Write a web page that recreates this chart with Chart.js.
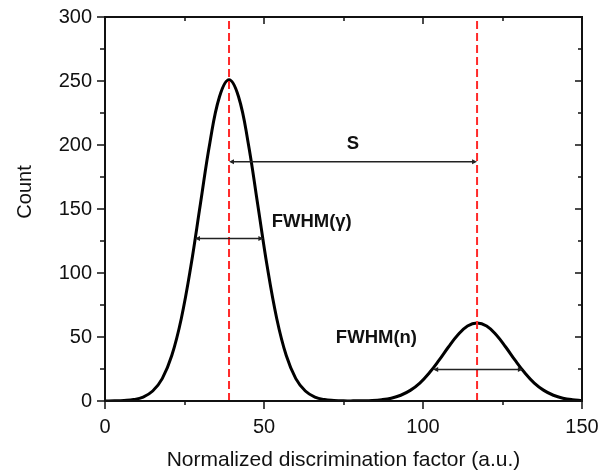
<!DOCTYPE html>
<html lang="en">
<head>
  <meta charset="UTF-8">
  <script src="https://cdn.jsdelivr.net/npm/chart.js"></script>
  <title>Discrimination factor distribution</title>
  <style>
    body { margin: 0; background: #ffffff; }
    #wrap { width: 611px; height: 475px; }
  </style>
</head>
<body>
  <div id="wrap"><canvas id="chart" width="611" height="475"></canvas></div>

  <script>
    // values
    const factor = [0, 3, 6, 9, 12, 15, 18, 21, 24, 27, 30, 33, 36, 39, 42, 45, 48, 51, 54, 57, 60,
      63, 66, 69, 72, 75, 78, 81, 84, 87, 90, 93, 96, 99, 102, 105, 108, 111, 114, 117, 120,
      123, 126, 129, 132, 135, 138, 141, 144, 147, 150];
    const counts = [0, 0.1, 0.4, 1.1, 3.1, 7.8, 17.5, 35.5, 64.5, 105.2, 153.9, 202, 237.7, 251, 237.7, 202, 153.9, 105.2, 64.5, 35.5, 17.5,
      7.8, 3.1, 1.1, 0.4, 0.1, 0.1, 0.2, 0.4, 1.0, 2.2, 4.5, 8.3, 14.0, 22.0, 31.7, 42.2, 51.8, 58.6, 61, 58.6,
      51.8, 42.2, 31.7, 22.0, 14.0, 8.3, 4.5, 2.2, 1.0, 0.4];
    const peakPositions = [39, 117];
    const xTicks = [0, 50, 100, 150];
    const yTicks = [0, 50, 100, 150, 200, 250, 300];

    const FONT = 'Arial, "Liberation Sans", sans-serif';

    // double headed arrows and labels, in data units
    const arrows = [
      { x1: 39, x2: 117, y: 187 },
      { x1: 28.3, x2: 49.8, y: 127 },
      { x1: 103.2, x2: 131.4, y: 24.7 }
    ];
    const notes = [
      { text: 'S', x: 78, y: 201, align: 'center' },
      { text: 'FWHM(\u03b3)', x: 52.4, y: 140, align: 'left' },
      { text: 'FWHM(n)', x: 72.6, y: 49, align: 'left' }
    ];

    function arrowHead(ctx, x, y, dir) {
      ctx.beginPath();
      ctx.moveTo(x, y);
      ctx.lineTo(x - dir * 5, y - 2.5);
      ctx.lineTo(x - dir * 5, y + 2.5);
      ctx.closePath();
      ctx.fill();
    }

    const framePlugin = {
      id: 'frame',
      afterDatasetsDraw(chart) {
        const ctx = chart.ctx;
        const xs = chart.scales.x, ys = chart.scales.y;

        // arrows
        ctx.save();
        ctx.strokeStyle = '#222';
        ctx.fillStyle = '#222';
        ctx.lineWidth = 1.5;
        arrows.forEach(ar => {
          const px1 = xs.getPixelForValue(ar.x1);
          const px2 = xs.getPixelForValue(ar.x2);
          const py = ys.getPixelForValue(ar.y);
          ctx.beginPath();
          ctx.moveTo(px1 + 2, py);
          ctx.lineTo(px2 - 2, py);
          ctx.stroke();
          arrowHead(ctx, px1, py, -1);
          arrowHead(ctx, px2, py, 1);
        });

        // labels
        ctx.fillStyle = '#111';
        ctx.font = 'bold 18.5px ' + FONT;
        ctx.textBaseline = 'middle';
        notes.forEach(n => {
          ctx.textAlign = n.align;
          ctx.fillText(n.text, xs.getPixelForValue(n.x), ys.getPixelForValue(n.y));
        });
        ctx.restore();
      },
      afterDraw(chart) {
        const ctx = chart.ctx;
        const xs = chart.scales.x, ys = chart.scales.y;
        const a = chart.chartArea;
        ctx.save();
        ctx.strokeStyle = '#111';
        ctx.lineWidth = 2;
        ctx.strokeRect(a.left, a.top, a.right - a.left, a.bottom - a.top);

        ctx.lineWidth = 1.5;
        ctx.beginPath();
        for (let v = 0; v <= 150; v += 25) {
          const px = Math.round(xs.getPixelForValue(v));
          const major = v % 50 === 0;
          ctx.moveTo(px, a.bottom); ctx.lineTo(px, a.bottom + (major ? 8 : 4));
          ctx.moveTo(px, a.top); ctx.lineTo(px, a.top + (major ? 7 : 4));
        }
        for (let v = 0; v <= 300; v += 25) {
          const py = Math.round(ys.getPixelForValue(v));
          const major = v % 50 === 0;
          ctx.moveTo(a.left, py); ctx.lineTo(a.left - (major ? 8 : 5), py);
          ctx.moveTo(a.right, py); ctx.lineTo(a.right - (major ? 7 : 4), py);
        }
        ctx.stroke();

        // y axis title
        ctx.fillStyle = '#111';
        ctx.font = '20px ' + FONT;
        ctx.textAlign = 'center';
        ctx.textBaseline = 'middle';
        ctx.translate(25, 192);
        ctx.rotate(-Math.PI / 2);
        ctx.fillText('Count', 0, 0);
        ctx.restore();
      }
    };

    const redLine = (x) => ({
      data: [{ x: x, y: 0 }, { x: x, y: 300 }],
      borderColor: '#ff2a2a',
      borderWidth: 2,
      borderDash: [8, 4],
      pointRadius: 0,
      fill: false
    });

    new Chart(document.getElementById('chart'), {
      type: 'line',
      data: {
        datasets: [
          redLine(peakPositions[0]),
          redLine(peakPositions[1]),
          {
            data: factor.map((x, i) => ({ x: x, y: counts[i] })),
            borderColor: '#000',
            borderWidth: 3,
            pointRadius: 0,
            tension: 0.4,
            fill: false
          }
        ]
      },
      options: {
        responsive: false,
        animation: false,
        layout: { padding: { left: 0, right: 29, top: 17, bottom: 0 } },
        plugins: { legend: { display: false }, tooltip: { enabled: false } },
        scales: {
          x: {
            type: 'linear',
            min: 0,
            max: 150,
            afterFit: s => { s.height = 74; s.paddingLeft = 0; s.paddingRight = 0; },
            afterBuildTicks: s => { s.ticks = xTicks.map(v => ({ value: v })); },
            grid: { display: false, drawTicks: false },
            border: { display: false },
            ticks: { color: '#111', padding: 14, font: { family: FONT, size: 20 }, maxRotation: 0 },
            title: {
              display: true,
              text: 'Normalized discrimination factor (a.u.)',
              color: '#111',
              font: { family: FONT, size: 21 },
              padding: { top: 0, bottom: 2 }
            }
          },
          y: {
            min: 0,
            max: 300,
            afterFit: s => { s.width = 105; s.paddingTop = 0; s.paddingBottom = 0; },
            afterBuildTicks: s => { s.ticks = yTicks.map(v => ({ value: v })); },
            grid: { display: false, drawTicks: false },
            border: { display: false },
            ticks: { color: '#111', padding: 13, font: { family: FONT, size: 20 } },
            title: { display: false }
          }
        }
      },
      plugins: [framePlugin]
    });
  </script>
</body>
</html>
